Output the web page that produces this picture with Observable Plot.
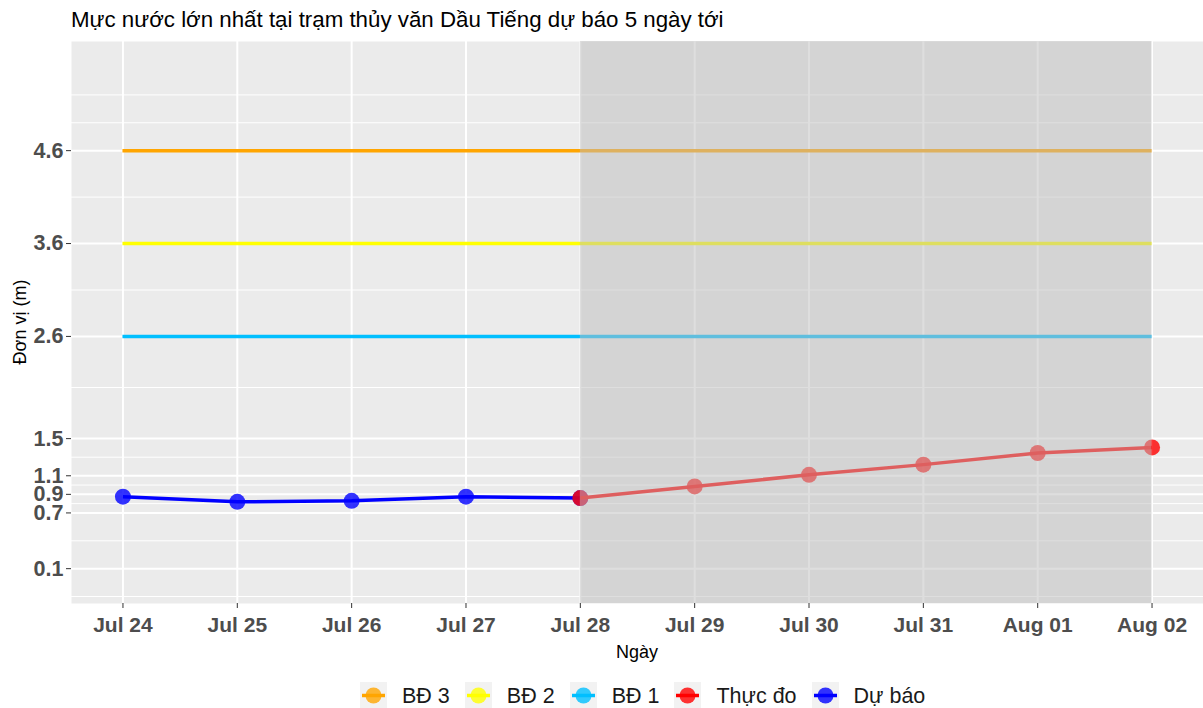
<!DOCTYPE html>
<html><head><meta charset="utf-8">
<script src="https://cdn.jsdelivr.net/npm/d3@7"></script>
<script src="https://cdn.jsdelivr.net/npm/@observablehq/plot@0.6"></script>
<style>
body{margin:0;background:#fff;font-family:"Liberation Sans",Arial,sans-serif;}
#wrap{position:relative;width:1203px;height:708px;overflow:hidden;background:#fff;}
#chart{position:absolute;left:0;top:0;}
#title{position:absolute;left:71px;top:9px;font-size:22.3px;line-height:22px;color:#000;white-space:nowrap;}
#ylab{position:absolute;left:20px;top:322px;transform:translate(-50%,-50%) rotate(-90deg);font-size:18px;line-height:18px;white-space:nowrap;color:#000;}
#xlab{position:absolute;left:637px;top:643px;transform:translateX(-50%);font-size:18px;line-height:18px;white-space:nowrap;color:#000;}
#legend{position:absolute;left:360px;top:682px;display:flex;align-items:center;height:27px;}
.item{display:flex;align-items:center;margin-right:15px;}
.item svg{margin-right:15px;display:block;}
.item span{font-size:21.5px;line-height:22px;color:#1A1A1A;white-space:nowrap;}
</style></head><body>
<div id="wrap">
  <div id="chart"></div>
  <div id="title"></div>
  <div id="ylab"></div>
  <div id="xlab"></div>
  <div id="legend"></div>
</div>
<script>
// ---- data ----
const titleText = "Mực nước lớn nhất tại trạm thủy văn Dầu Tiếng dự báo 5 ngày tới";
const xLabel = "Ngày";
const yLabel = "Đơn vị (m)";

const dayTicks = ["2024-07-24","2024-07-25","2024-07-26","2024-07-27","2024-07-28",
                  "2024-07-29","2024-07-30","2024-07-31","2024-08-01","2024-08-02"];

const forecastName = "Dự báo";
const forecastDates = ["2024-07-24","2024-07-25","2024-07-26","2024-07-27","2024-07-28"];
const forecastLevels = [0.875, 0.82, 0.83, 0.875, 0.86];

const observedName = "Thực đo";
const observedDates = ["2024-07-28","2024-07-29","2024-07-30","2024-07-31","2024-08-01","2024-08-02"];
const observedLevels = [0.86, 0.985, 1.11, 1.22, 1.345, 1.405];

const alarmNames = ["BĐ 3", "BĐ 2", "BĐ 1"];
const alarmLevels = [4.6, 3.6, 2.6];
const alarmColors = ["#FFA500", "#FFFF00", "#00BFFF"];
const forecastColor = "#0000FF";
const observedColor = "#FF0000";

const shadeStart = "2024-07-28";
const shadeEnd = "2024-08-02";

const yTicks = [0.1, 0.7, 0.9, 1.1, 1.5, 2.6, 3.6, 4.6];
const yMinor = [-0.2, 0.4, 0.8, 1.0, 1.3, 2.05, 3.1, 4.1, 4.9, 5.2];
const yLimits = [0, 5.5];

// ---- build ----
const parse = d3.utcParse("%Y-%m-%d");
const days = dayTicks.map(parse);
const forecast = forecastDates.map((d, i) => ({date: parse(d), value: forecastLevels[i]}));
const observed = observedDates.map((d, i) => ({date: parse(d), value: observedLevels[i]}));
const span = days[days.length - 1] - days[0];
const xDomain = [new Date(+days[0] - 0.05 * span), new Date(+days[days.length - 1] + 0.05 * span)];
const ySpan = yLimits[1] - yLimits[0];
const yDomain = [yLimits[0] - 0.05 * ySpan, yLimits[1] + 0.05 * ySpan];

const alarmMarks = alarmLevels.map((v, i) =>
  Plot.ruleY([{y: v, a: days[0], b: days[days.length - 1]}],
    {y: "y", x1: "a", x2: "b", stroke: alarmColors[i], strokeWidth: 3.5, strokeLinecap: "butt"}));

const plot = Plot.plot({
  width: 1203, height: 708,
  marginTop: 41, marginBottom: 105, marginLeft: 71, marginRight: 0,
  style: {fontFamily: "'Liberation Sans', Arial, sans-serif", background: "transparent", overflow: "visible"},
  x: {type: "utc", domain: xDomain},
  y: {domain: yDomain},
  marks: [
    Plot.frame({fill: "#EBEBEB", stroke: null}),
    Plot.ruleY(yMinor, {stroke: "#FFFFFF", strokeWidth: 1}),
    Plot.ruleY(yTicks, {stroke: "#FFFFFF", strokeWidth: 2}),
    Plot.ruleX(days, {stroke: "#FFFFFF", strokeWidth: 2}),
    ...alarmMarks,
    Plot.line(forecast, {x: "date", y: "value", stroke: forecastColor, strokeWidth: 3.5, strokeLinecap: "butt"}),
    Plot.dot(forecast, {x: "date", y: "value", r: 8, fill: forecastColor, fillOpacity: 0.8, stroke: null}),
    Plot.line(observed, {x: "date", y: "value", stroke: observedColor, strokeWidth: 3.5, strokeLinecap: "butt"}),
    Plot.dot(observed, {x: "date", y: "value", r: 8, fill: observedColor, fillOpacity: 0.8, stroke: null}),
    Plot.rect([{a: parse(shadeStart), b: parse(shadeEnd)}], {x1: "a", x2: "b", fill: "#BEBEBE", fillOpacity: 0.5}),
    Plot.axisY(yTicks, {tickSize: 5, tickPadding: 3, stroke: "#333333", fill: "#4D4D4D", fontSize: 21.5, fontWeight: "bold",
      tickFormat: d => d.toFixed(1), label: null}),
    Plot.axisX(days, {tickSize: 5, tickPadding: 9, stroke: "#333333", fill: "#4D4D4D", fontSize: 21, fontWeight: "bold",
      tickFormat: d3.utcFormat("%b %d"), label: null})
  ]
});
document.getElementById("chart").appendChild(plot);
document.getElementById("title").textContent = titleText;
document.getElementById("ylab").textContent = yLabel;
document.getElementById("xlab").textContent = xLabel;

// legend
const legendItems = alarmNames.map((n, i) => ({name: n, color: alarmColors[i]}))
  .concat([{name: observedName, color: observedColor}, {name: forecastName, color: forecastColor}]);
const leg = document.getElementById("legend");
for (const it of legendItems) {
  const div = document.createElement("div");
  div.className = "item";
  div.innerHTML = `<svg width="27" height="27"><rect width="27" height="27" fill="#F2F2F2"/>
    <line x1="2" x2="25" y1="13.5" y2="13.5" stroke="${it.color}" stroke-width="3.5"/>
    <circle cx="13.5" cy="13.5" r="8" fill="${it.color}" fill-opacity="0.8"/></svg><span></span>`;
  div.querySelector("span").textContent = it.name;
  leg.appendChild(div);
}
</script>
</body></html>
